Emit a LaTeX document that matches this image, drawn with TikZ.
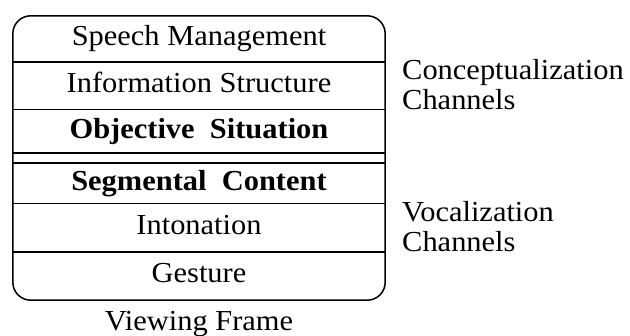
\documentclass[tikz,border=0pt]{standalone}
\usepackage{fontspec}
\setmainfont[FakeStretch=1.05]{Liberation Serif}
\usetikzlibrary{positioning}
\begin{document}
\begin{tikzpicture}[x=1pt,y=-1pt,font=\fontsize{29}{30}\selectfont,
  row/.style={minimum width=372pt,inner sep=0pt,text height=20pt,text depth=6pt},
  rule/.style={line width=1.5pt}]
\useasboundingbox (0,0) rectangle (630,336);
% channel rows, top to bottom
\node[row,minimum height=46pt] (speech) at (199,39) {Speech Management};
\node[row,minimum height=47pt,below=0pt of speech] (info) {Information Structure};
\node[row,minimum height=43pt,below=0pt of info] (objective) {\bfseries Objective\ \ Situation};
\node[row,minimum height=40pt,below=10pt of objective] (segmental) {\bfseries Segmental\ \ Content};
\node[row,minimum height=48pt,below=0pt of segmental] (intonation) {Intonation};
\node[row,minimum height=48pt,below=0pt of intonation] (gesture) {Gesture};
% frame and separators
\draw[rule,rounded corners=18pt] (speech.north west) rectangle (gesture.south east);
\draw[rule] (speech.south west) -- (speech.south east);
\draw[rule] (info.south west) -- (info.south east);
\draw[rule] (objective.south west) -- (objective.south east);
\draw[rule] (segmental.north west) -- (segmental.north east);
\draw[rule] (segmental.south west) -- (segmental.south east);
\draw[rule] (intonation.south west) -- (intonation.south east);
% labels (base = last line)
\node[anchor=base west,align=left,inner sep=0pt] (concept) at (402,110) {Conceptualization\\Channels};
\node[anchor=base west,align=left,inner sep=0pt] (vocal) at (402,252) {Vocalization\\Channels};
\node[anchor=base,inner sep=0pt] (viewing) at (199,331) {Viewing Frame};
\end{tikzpicture}
\end{document}
